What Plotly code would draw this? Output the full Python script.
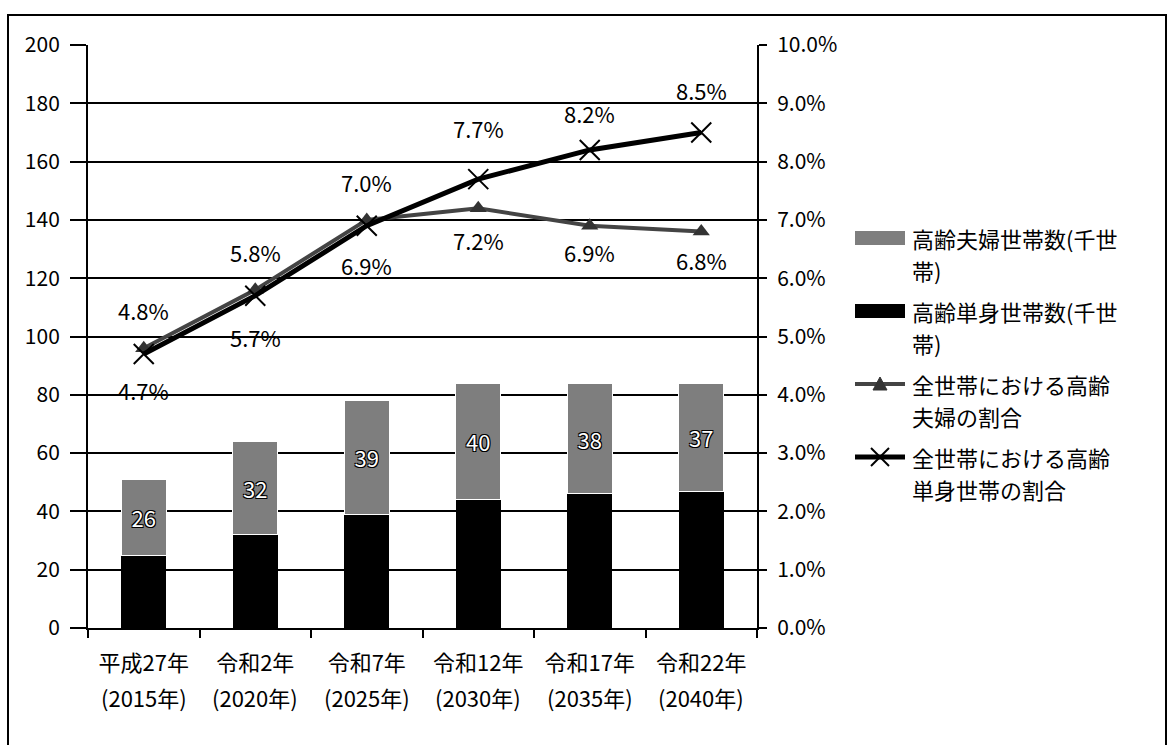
import plotly.graph_objects as go

# ---- data ----
era_labels = ["平成27年", "令和2年", "令和7年", "令和12年", "令和17年", "令和22年"]
year_labels = ["(2015年)", "(2020年)", "(2025年)", "(2030年)", "(2035年)", "(2040年)"]
single_households = [25, 32, 39, 44, 46, 47]          # 高齢単身世帯数(千世帯)
couple_households = [26, 32, 39, 40, 38, 37]          # 高齢夫婦世帯数(千世帯)
couple_share = [0.048, 0.058, 0.070, 0.072, 0.069, 0.068]   # 全世帯における高齢夫婦の割合
single_share = [0.047, 0.057, 0.069, 0.077, 0.082, 0.085]   # 全世帯における高齢単身世帯の割合

legend_lines = [
    ["高齢夫婦世帯数(千世", "帯)"],
    ["高齢単身世帯数(千世", "帯)"],
    ["全世帯における高齢", "夫婦の割合"],
    ["全世帯における高齢", "単身世帯の割合"],
]

# ---- label placement (style) ----
couple_label_shift = [38, 38, 38, -32, -26, -28]
single_label_shift = [-36, -41, -39, 51, 37, 42]

FONT = "Noto Sans CJK JP"
GRAY_BAR = "#7e7e7e"
TRI_LINE = "#444444"

L, R, T, B = 88, 414, 45, 117
W, H = 1171, 745
pw, ph = W - L - R, H - T - B


def px(xp):
    return (xp - L) / pw


def py(yp):
    return 1 - (yp - T) / ph


fig = go.Figure()

fig.add_trace(go.Bar(
    x=era_labels, y=single_households, name="高齢単身世帯数(千世帯)",
    marker=dict(color="#000000", line=dict(width=0)),
))
fig.add_trace(go.Bar(
    x=era_labels, y=couple_households, name="高齢夫婦世帯数(千世帯)",
    marker=dict(color=GRAY_BAR, line=dict(color="white", width=1)),
    text=couple_households, texttemplate="%{text}",
    textposition="inside", insidetextanchor="middle",
    textfont=dict(family=FONT, size=22, color="white",
                  shadow="1px 1px 0 #000, -1px -1px 0 #000, 1px -1px 0 #000, -1px 1px 0 #000"),
))
fig.add_trace(go.Scatter(
    x=era_labels, y=couple_share, yaxis="y2", mode="lines+markers",
    name="全世帯における高齢夫婦の割合",
    line=dict(color=TRI_LINE, width=4),
    marker=dict(symbol="triangle-up", size=15, color="#333333"),
))
fig.add_trace(go.Scatter(
    x=era_labels, y=single_share, yaxis="y2", mode="lines+markers",
    name="全世帯における高齢単身世帯の割合",
    line=dict(color="#000000", width=5),
    marker=dict(symbol="x-thin", size=20, color="#000000",
                line=dict(color="#000000", width=2)),
))

annotations = []
for cat, v, s in zip(era_labels, couple_share, couple_label_shift):
    annotations.append(dict(x=cat, y=v, xref="x", yref="y2", text=f"{v*100:.1f}%",
                            showarrow=False, yshift=s,
                            font=dict(family=FONT, size=22, color="black")))
for cat, v, s in zip(era_labels, single_share, single_label_shift):
    annotations.append(dict(x=cat, y=v, xref="x", yref="y2", text=f"{v*100:.1f}%",
                            showarrow=False, yshift=s,
                            font=dict(family=FONT, size=22, color="black")))
# second line of category labels
for cat, yl in zip(era_labels, year_labels):
    annotations.append(dict(x=cat, y=0, xref="x", yref="paper", text=yl,
                            showarrow=False, yshift=-69, yanchor="middle",
                            font=dict(family=FONT, size=22, color="black")))

# ---- hand-built legend (wide swatches like the original) ----
shapes = []
item_top = 238
item_pitch = 73
line_gap = 32
sw_x0, sw_x1, text_x = 855, 905, 910
for i, lines in enumerate(legend_lines):
    y1 = item_top + i * item_pitch
    for j, t in enumerate(lines):
        annotations.append(dict(x=px(text_x), y=py(y1 + j * line_gap), xref="paper", yref="paper",
                                text=t, showarrow=False, xanchor="left", yanchor="middle",
                                font=dict(family=FONT, size=22, color="black")))
    if i == 0:
        shapes.append(dict(type="rect", xref="paper", yref="paper",
                           x0=px(sw_x0), x1=px(sw_x1), y0=py(y1 + 7), y1=py(y1 - 7),
                           fillcolor=GRAY_BAR, line=dict(width=0)))
    elif i == 1:
        shapes.append(dict(type="rect", xref="paper", yref="paper",
                           x0=px(sw_x0), x1=px(sw_x1), y0=py(y1 + 7), y1=py(y1 - 7),
                           fillcolor="#000000", line=dict(width=0)))
    elif i == 2:
        shapes.append(dict(type="line", xref="paper", yref="paper",
                           x0=px(sw_x0), x1=px(sw_x1), y0=py(y1), y1=py(y1),
                           line=dict(color=TRI_LINE, width=4)))
        cx = (sw_x0 + sw_x1) / 2
        path = (f"M {px(cx - 7)},{py(y1 + 6)} L {px(cx + 7)},{py(y1 + 6)} "
                f"L {px(cx)},{py(y1 - 7)} Z")
        shapes.append(dict(type="path", xref="paper", yref="paper", path=path,
                           fillcolor="#333333", line=dict(color="#333333", width=1)))
    else:
        shapes.append(dict(type="line", xref="paper", yref="paper",
                           x0=px(sw_x0), x1=px(sw_x1), y0=py(y1), y1=py(y1),
                           line=dict(color="#000000", width=5)))
        cx = (sw_x0 + sw_x1) / 2
        for dy in (-1, 1):
            shapes.append(dict(type="line", xref="paper", yref="paper",
                               x0=px(cx - 9), x1=px(cx + 9), y0=py(y1 - 9 * dy), y1=py(y1 + 9 * dy),
                               line=dict(color="#000000", width=2)))

# outer frame
shapes.append(dict(type="rect", xref="paper", yref="paper",
                   x0=px(8), x1=px(1166), y0=py(780), y1=py(15),
                   line=dict(color="black", width=2), fillcolor="rgba(0,0,0,0)"))

fig.update_layout(
    width=W, height=H,
    margin=dict(l=L, r=R, t=T, b=B),
    paper_bgcolor="white", plot_bgcolor="white",
    barmode="stack", bargap=0.6,
    font=dict(family=FONT, size=20, color="black"),
    showlegend=False,
    xaxis=dict(
        type="category", showgrid=False, showline=True, linecolor="black", linewidth=2,
        ticks="outside", tickson="boundaries", ticklen=8, tickwidth=2, tickcolor="black",
        tickfont=dict(family=FONT, size=22, color="black"), ticklabelstandoff=15,
    ),
    yaxis=dict(
        range=[0, 200], dtick=20, showgrid=True, gridcolor="black", gridwidth=2,
        showline=True, linecolor="black", linewidth=2, zeroline=False,
        ticks="outside", ticklen=16, tickwidth=2, tickcolor="black",
        tickfont=dict(family=FONT, size=21, color="black"), ticklabelstandoff=6,
    ),
    yaxis2=dict(
        range=[0, 0.10], dtick=0.01, tickformat=".1%", overlaying="y", side="right",
        showgrid=False, showline=True, linecolor="black", linewidth=2, zeroline=False,
        ticks="outside", ticklen=8, tickwidth=2, tickcolor="black",
        tickfont=dict(family=FONT, size=21, color="black"), ticklabelstandoff=6,
    ),
    annotations=annotations,
    shapes=shapes,
)

fig.write_html("out.html")
